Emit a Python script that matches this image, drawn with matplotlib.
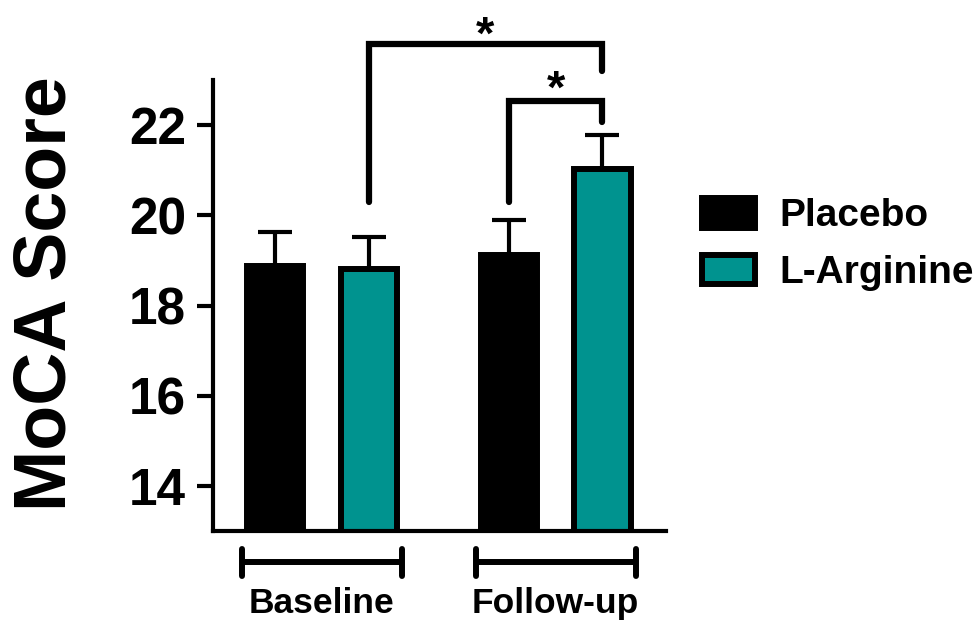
import matplotlib
matplotlib.use('Agg')
import matplotlib.pyplot as plt
from matplotlib.patches import Patch

# ---- data ----
groups = ['Baseline', 'Follow-up']
series = ['Placebo', 'L-Arginine']
placebo_mean = [18.88, 19.13]
placebo_err = [0.76, 0.76]
larg_mean = [18.80, 21.02]
larg_err = [0.71, 0.75]
colors = ['#000000', '#00938F']
yticks = [14, 16, 18, 20, 22]
ylim = (13, 23)
ylabel = 'MoCA Score'
# significance brackets: (bar a, bar b, bracket y, left leg end, right leg end, label, label baseline y)
sig = [(1, 3, 23.80, 20.29, 23.20, '*', 23.70),
       (2, 3, 22.53, 20.29, 22.07, '*', 22.50)]

FONT = 'Liberation Sans'
plt.rcParams['font.family'] = [FONT, 'DejaVu Sans']
plt.rcParams['font.weight'] = 'bold'

W, H = 980, 623
fig = plt.figure(figsize=(W / 100, H / 100), dpi=100)
L, R, T, B = 213, 666, 80, 531
ax = fig.add_axes([L / W, 1 - B / H, (R - L) / W, (B - T) / H])

group_pos = [0.0, 2.5]
offsets = [0.0, 1.0]
bw = 0.6
lw_edge = 4.3

means = [placebo_mean, larg_mean]
errs = [placebo_err, larg_err]
bar_x = []
for gi, g in enumerate(groups):
    for si in range(len(series)):
        bar_x.append(group_pos[gi] + offsets[si])

handles = []
for si, s in enumerate(series):
    xs = [group_pos[gi] + offsets[si] for gi in range(len(groups))]
    ax.bar(xs, means[si], width=bw, bottom=0, color=colors[si],
           edgecolor='black', linewidth=lw_edge, zorder=2)
    ax.errorbar(xs, means[si], yerr=[[0] * len(xs), errs[si]], fmt='none',
                ecolor='black', elinewidth=3, capsize=12.5, capthick=3, zorder=3)
    handles.append(Patch(facecolor=colors[si], edgecolor='black', linewidth=lw_edge, label=s))

ax.set_xlim(-0.663, 4.179)
ax.set_ylim(*ylim)
ax.set_yticks(yticks)
ax.set_yticklabels([str(t) for t in yticks], fontsize=37, fontweight='bold')
ax.set_xticks([])
for sp in ['top', 'right']:
    ax.spines[sp].set_visible(False)
for sp in ['left', 'bottom']:
    ax.spines[sp].set_linewidth(3)
ax.tick_params(axis='y', direction='out', length=11.5, width=3, pad=8)
ax.set_ylabel(ylabel, fontsize=53, fontweight='bold', labelpad=35)
ax.yaxis.label.set_y(0.5255)

# group brackets below axis
for gi, g in enumerate(groups):
    x0 = group_pos[gi] + offsets[0] - 0.355
    x1 = group_pos[gi] + offsets[-1] + 0.355
    yb = 12.31
    ax.plot([x0, x1], [yb, yb], color='black', lw=4.3, clip_on=False, solid_capstyle='butt')
    for xe in (x0, x1):
        ax.plot([xe, xe], [12.0, 12.6], color='black', lw=4.3, clip_on=False, solid_capstyle='round')
    ax.text((x0 + x1) / 2, 11.4, g, ha='center', va='center', fontsize=25.5,
            fontweight='bold', clip_on=False)

# significance brackets
for a, b, yl, ya, yb_, lab, ys in sig:
    xa, xb = bar_x[a], bar_x[b]
    ax.plot([xa, xa, xb, xb], [ya, yl, yl, yb_], color='black', lw=4.5,
            clip_on=False, solid_capstyle='round', solid_joinstyle='miter', zorder=4)
    ax.text((xa + xb) / 2, ys, lab, ha='center', va='baseline', fontsize=34,
            fontweight='bold', clip_on=False)

leg = fig.legend(handles=handles, loc='upper left', bbox_to_anchor=(702 / W, 1 - 198 / H),
                 frameon=False, fontsize=28, handlelength=1.36, handleheight=0.8,
                 handletextpad=0.62, labelspacing=0.52, borderpad=0, borderaxespad=0)
for t in leg.get_texts():
    t.set_fontweight('bold')

fig.savefig('out.png', dpi=100)
